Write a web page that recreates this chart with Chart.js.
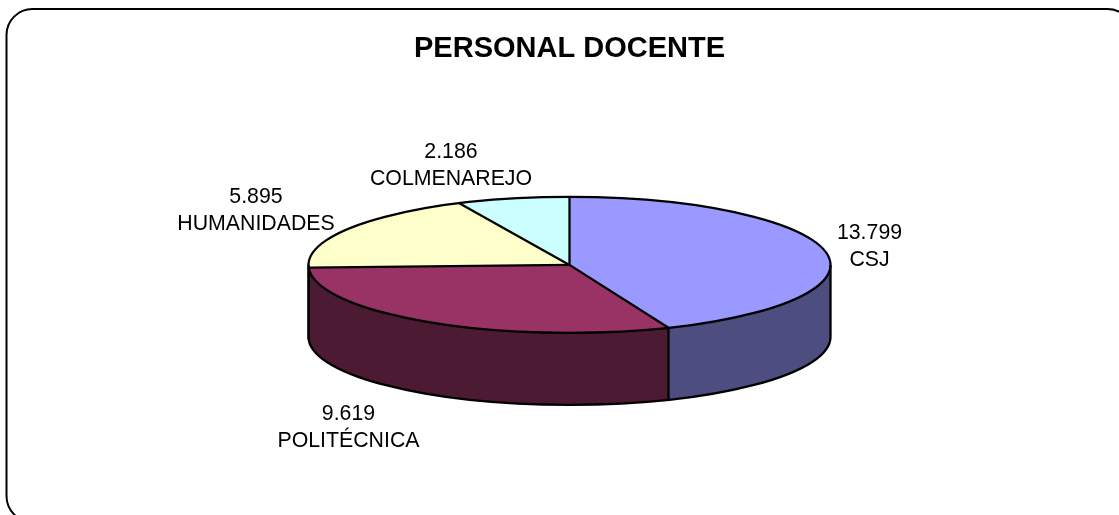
<!DOCTYPE html>
<html><head><meta charset="utf-8">
<style>html,body{margin:0;padding:0;background:#fff}#w{width:1119px;height:515px}</style>
<script src="https://cdn.jsdelivr.net/npm/chart.js@4"></script>
</head><body><div id="w"><canvas id="c"></canvas></div>
<script>
const categories = ['CSJ','POLITÉCNICA','HUMANIDADES','COLMENAREJO'];
const values = [13799,9619,5895,2186];
const valueLabels = ['13.799','9.619','5.895','2.186'];
const topColors = ['#9999FF','#993366','#FFFFCC','#CCFFFF'];
const wallColors = ['#4D4D80','#4D1A33','#808066','#668080'];
const labelAnchors = [[869.5,239],[348.5,420],[256,203],[451,158]];
const FONT = '"Liberation Sans", Arial, sans-serif';
const SQUASH = 68/261, DEPTH = 72;

const pie3d = {
  id:'pie3d',
  beforeDraw(chart){
    const c = chart.ctx, x=6.5,y=9,w=1127,h=513,r=26;
    c.save(); c.fillStyle='#fff'; c.fillRect(0,0,chart.width,chart.height);
    c.beginPath(); c.roundRect(x,y,w,h,r); c.strokeStyle='#000'; c.lineWidth=2; c.stroke(); c.restore();
  },
  beforeDatasetsDraw(chart){
    const c = chart.ctx, arcs = chart.getDatasetMeta(0).data;
    const p = arcs[0], rx=p.outerRadius, ry=rx*SQUASH;
    arcs.forEach((a,i)=>{
      const s=Math.max(a.startAngle,0), e=Math.min(a.endAngle,Math.PI);
      if(e<=s) return;
      c.beginPath();
      c.ellipse(a.x,a.y,rx,ry,0,s,e);
      c.ellipse(a.x,a.y+DEPTH,rx,ry,0,e,s,true);
      c.closePath(); c.fillStyle=wallColors[i]; c.fill();
    });
    c.save();
    c.translate(p.x,p.y); c.scale(1,SQUASH); c.translate(-p.x,-p.y);
  },
  afterDatasetsDraw(chart){
    const c = chart.ctx, arcs = chart.getDatasetMeta(0).data;
    c.restore();
    const p = arcs[0], rx=p.outerRadius, ry=rx*SQUASH;
    c.save(); c.strokeStyle='#000'; c.lineWidth=2.3; c.lineJoin='round';
    c.beginPath();
    c.ellipse(p.x,p.y,rx,ry,0,0,Math.PI*2);
    c.stroke();
    c.beginPath();
    c.moveTo(p.x+rx,p.y); c.lineTo(p.x+rx,p.y+DEPTH);
    c.ellipse(p.x,p.y+DEPTH,rx,ry,0,0,Math.PI);
    c.lineTo(p.x-rx,p.y);
    c.stroke();
    arcs.forEach(a=>{
      const px=a.x+rx*Math.cos(a.startAngle), py=a.y+ry*Math.sin(a.startAngle);
      c.beginPath(); c.moveTo(a.x,a.y); c.lineTo(px,py);
      if(Math.sin(a.startAngle)>0) c.lineTo(px,py+DEPTH);
      c.stroke();
    });
    c.restore();
  },
  afterDraw(chart){
    const c = chart.ctx;
    c.save(); c.fillStyle='#000'; c.font='21.3px '+FONT; c.textAlign='center'; c.textBaseline='alphabetic';
    categories.forEach((n,i)=>{
      const [x,y]=labelAnchors[i];
      c.fillText(valueLabels[i],x,y);
      c.fillText(n,x,y+27);
    });
    c.restore();
  }
};

new Chart(document.getElementById('c'),{
  type:'pie',
  data:{labels:categories,datasets:[{data:values,backgroundColor:topColors,borderWidth:0,clip:false}]},
  plugins:[pie3d],
  options:{
    responsive:true,maintainAspectRatio:false,animation:false,
    radius:261,
    layout:{padding:{left:20,right:0,top:0,bottom:65}},
    plugins:{
      legend:{display:false},tooltip:{enabled:false},
      title:{display:true,text:'PERSONAL DOCENTE',color:'#000',
        font:{family:FONT,size:29,weight:'bold',lineHeight:1.2},
        padding:{top:32,bottom:13}}
    }
  }
});
</script></body></html>
